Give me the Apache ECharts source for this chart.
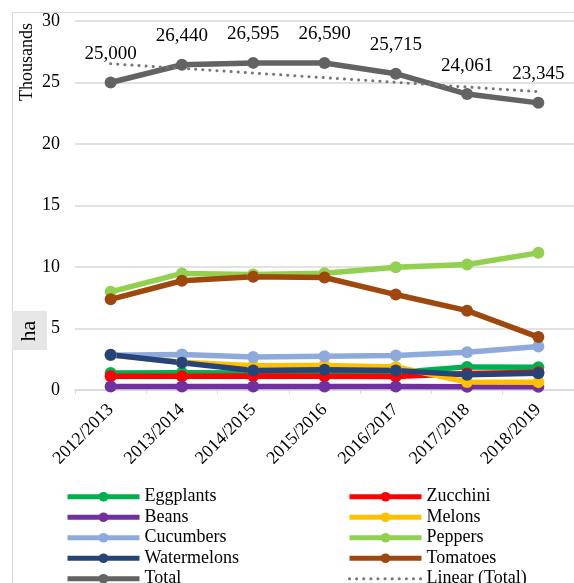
<!DOCTYPE html>
<html>
<head>
<meta charset="utf-8">
<script src="https://cdn.jsdelivr.net/npm/echarts@6/dist/echarts.min.js"></script>
<style>
  html, body { margin: 0; padding: 0; background: #fff; }
  #chart { width: 574px; height: 583px; }
</style>
</head>
<body>
<div id="chart"></div>
<script>
// Vegetable growing area per season, hectares
const seasons = ['2012/2013', '2013/2014', '2014/2015', '2015/2016', '2016/2017', '2017/2018', '2018/2019'];

const eggplants   = [1380, 1400, 1380, 1400, 1420, 1880, 1850];
const zucchini    = [1120, 1120, 1130, 1120, 1100, 1350, 1450];
const beans       = [290, 290, 280, 280, 280, 270, 270];
const melons      = [2850, 2250, 1980, 2000, 1880, 650, 640];
const cucumbers   = [2820, 2880, 2680, 2750, 2800, 3070, 3540];
const peppers     = [7980, 9480, 9400, 9500, 9980, 10200, 11150];
const watermelons = [2860, 2210, 1590, 1640, 1590, 1230, 1370];
const tomatoes    = [7370, 8880, 9200, 9150, 7760, 6450, 4300];
const total       = [25000, 26440, 26595, 26590, 25715, 24061, 23345];
const totalTrend  = [26528, 26150, 25771, 25392, 25014, 24635, 24256];

const yTicks = [0, 5, 10, 15, 20, 25, 30]; // thousands of ha

const FONT = '"Liberation Serif", "Times New Roman", serif';
const TREND_COLOR = '#767676';

function withCommas(n) {
  return String(n).replace(/\B(?=(\d{3})+(?!\d))/g, ',');
}

function cropLine(name, data, color) {
  return {
    name: name,
    type: 'line',
    data: data,
    symbol: 'circle',
    symbolSize: 12,
    lineStyle: { color: color, width: 5.5 },
    itemStyle: { color: color },
    emphasis: { disabled: true },
    animation: false
  };
}

const chart = echarts.init(document.getElementById('chart'), null, { renderer: 'canvas' });

const legendText = { fontFamily: FONT, fontSize: 18, color: '#000', lineHeight: 20.5 };

function legendBlock(left, names) {
  return {
    orient: 'vertical', left: left, top: 486.5, height: 130, padding: 0,
    itemWidth: 72, itemHeight: 12, itemGap: 0,
    textStyle: legendText,
    lineStyle: { width: 5 },
    data: names.map(n => n === 'Linear (Total)'
      ? { name: n, lineStyle: { width: 3, type: [0.1, 7], cap: 'round', color: TREND_COLOR }, itemStyle: { opacity: 0 } }
      : { name: n })
  };
}

chart.setOption({
  backgroundColor: '#fff',
  animation: false,
  grid: { left: 75, right: 0, top: 21, bottom: 193, containLabel: false, outerBoundsMode: 'none' },
  xAxis: {
    type: 'category',
    data: seasons,
    boundaryGap: true,
    axisLine: { lineStyle: { color: '#d9d9d9', width: 1.5 } },
    axisTick: { show: true, length: 4, lineStyle: { color: '#d9d9d9' } },
    axisLabel: { rotate: 45, margin: 17, fontFamily: FONT, fontSize: 18, color: '#000', interval: 0 }
  },
  yAxis: {
    type: 'value',
    min: yTicks[0] * 1000,
    max: yTicks[yTicks.length - 1] * 1000,
    interval: 5000,
    axisLine: { show: false },
    axisTick: { show: false },
    splitLine: { lineStyle: { color: '#d9d9d9', width: 1.5 } },
    axisLabel: { margin: 15, fontFamily: FONT, fontSize: 18, color: '#000', formatter: v => String(v / 1000) }
  },
  legend: [
    legendBlock(65, ['Eggplants', 'Beans', 'Cucumbers', 'Watermelons', 'Total']),
    legendBlock(347, ['Zucchini', 'Melons', 'Peppers', 'Tomatoes', 'Linear (Total)'])
  ],
  graphic: [
    {
      type: 'rect', z: -10, silent: true,
      shape: { x: 12.5, y: 12.5, width: 700, height: 700 },
      style: { fill: 'none', stroke: '#d9d9d9', lineWidth: 1 }
    },
    {
      type: 'text', silent: true,
      x: 27, y: 62, rotation: Math.PI / 2,
      style: { text: 'Thousands', fontFamily: FONT, fontSize: 18, fill: '#000', align: 'center', verticalAlign: 'middle' }
    },
    {
      type: 'rect', silent: true,
      shape: { x: 12, y: 311, width: 35, height: 39 },
      style: { fill: '#e6e6e6' }
    },
    {
      type: 'text', silent: true,
      x: 29, y: 331, rotation: Math.PI / 2,
      style: { text: 'ha', fontFamily: FONT, fontSize: 22, fill: '#000', align: 'center', verticalAlign: 'middle' }
    }
  ],
  series: [
    cropLine('Eggplants', eggplants, '#00b050'),
    cropLine('Zucchini', zucchini, '#ff0000'),
    cropLine('Beans', beans, '#7030a0'),
    cropLine('Melons', melons, '#ffc000'),
    cropLine('Cucumbers', cucumbers, '#8eaadb'),
    cropLine('Peppers', peppers, '#92d050'),
    cropLine('Watermelons', watermelons, '#264478'),
    cropLine('Tomatoes', tomatoes, '#9e480e'),
    Object.assign(cropLine('Total', total, '#636363'), {
      label: {
        show: true, position: 'top', distance: 13,
        fontFamily: FONT, fontSize: 19, color: '#000',
        formatter: p => withCommas(p.value)
      }
    }),
    {
      name: 'Linear (Total)',
      type: 'line',
      data: totalTrend,
      symbol: 'none',
      z: 3,
      lineStyle: { color: TREND_COLOR, width: 3, type: [0.1, 7], cap: 'round' },
      itemStyle: { color: TREND_COLOR },
      emphasis: { disabled: true },
      animation: false
    }
  ]
});
</script>
</body>
</html>
